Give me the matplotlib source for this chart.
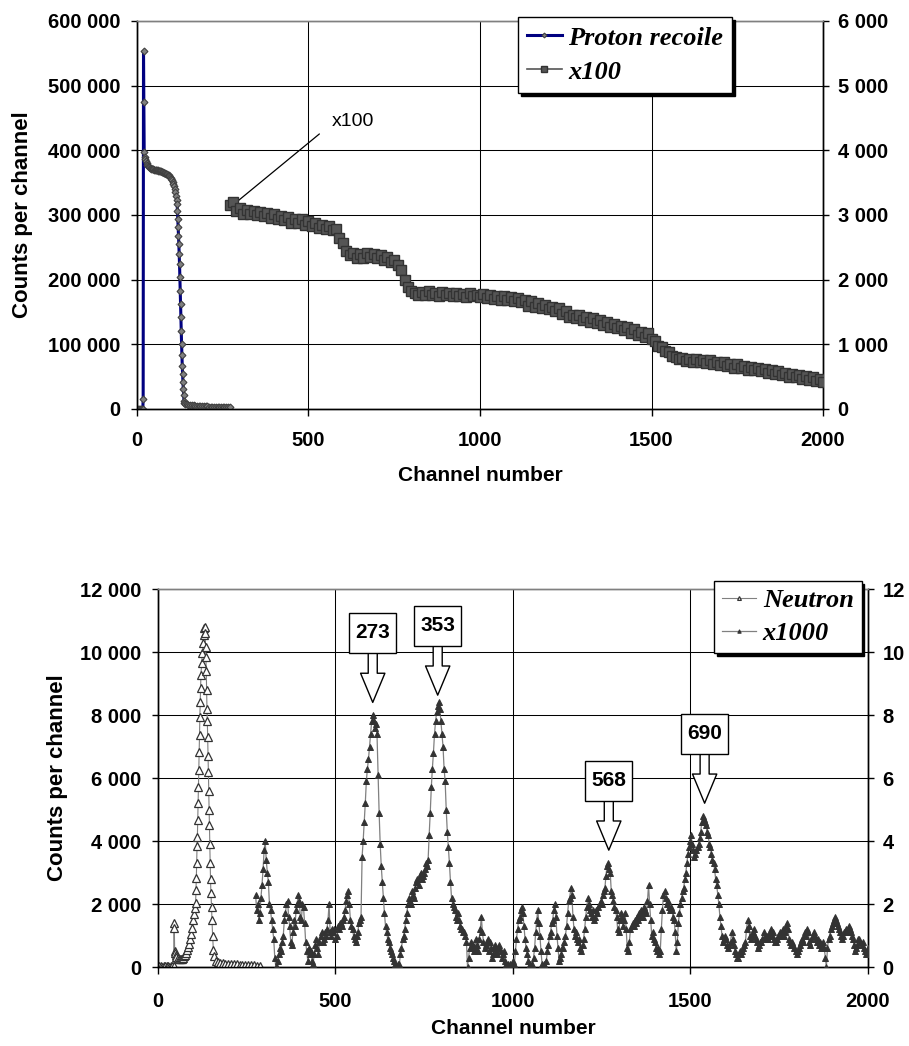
import matplotlib as mpl
mpl.use('Agg')
import matplotlib.pyplot as plt
from matplotlib.ticker import FuncFormatter, MultipleLocator

plt.rcParams['font.family'] = ['Liberation Sans', 'DejaVu Sans']
plt.rcParams['font.weight'] = 'bold'

# ---- top panel: proton recoil spectrum (left axis) ----
proton_ch = [0, 3, 6, 9, 12, 15, 17, 18, 19, 20, 21, 22] + list(range(24, 117, 2)) \
    + list(range(117, 139)) + list(range(140, 271, 5))
proton_counts = [0, 0, 0, 0, 0, 0, 0, 15000, 553000, 475000, 398000, 390000,
                 386000, 383000, 380000, 378000, 376000, 374500, 373500, 372500, 372000, 371500,
                 371000, 370500, 370500, 370000, 370000, 369500, 369500, 369000, 369000, 368500,
                 368500, 368000, 368000, 367500, 367000, 366500, 366000, 365500, 365000, 364500,
                 364000, 363500, 363000, 362000, 361000, 360000, 358500, 357000, 355500, 354000,
                 351000, 348000, 344000, 340000, 336000, 330000, 323000,
                 317000, 306000, 293000, 281000, 268000, 255000, 240000, 224000, 204000, 183000,
                 163000, 142000, 121000, 101000, 83000, 67000, 54000, 41000, 31000, 21000,
                 13000, 9500,
                 7800, 7000, 6500, 6100, 5800, 5500, 5300, 5100, 4900, 4700,
                 4500, 4300, 4100, 4000, 3800, 3700, 3500, 3400, 3300, 3200,
                 3100, 3000, 2900, 2800, 2700, 2600, 2500]

# x100 part (right axis)
x100_ch = list(range(270, 2001, 10))
x100_counts = [3150, 3200, 3060, 3100, 3020, 3080, 3010, 3060, 3000, 3050,
               2980, 3030, 2960, 3010, 2940, 2990, 2920, 2970, 2880, 2940,
               2870, 2930, 2850, 2900, 2830, 2880, 2800, 2850, 2790, 2830,
               2760, 2790, 2650, 2560, 2450, 2380, 2410, 2330, 2390, 2340,
               2410, 2350, 2400, 2330, 2380, 2300, 2350, 2270, 2300, 2230,
               2150, 2000, 1890, 1830, 1800, 1760, 1810, 1770, 1820, 1760,
               1800, 1750, 1810, 1760, 1790, 1740, 1790, 1750, 1780, 1730,
               1790, 1740, 1770, 1730, 1780, 1720, 1760, 1700, 1750, 1690,
               1740, 1680, 1730, 1670, 1720, 1650, 1690, 1600, 1670, 1580,
               1640, 1560, 1610, 1540, 1580, 1510, 1560, 1470, 1520, 1420,
               1460, 1400, 1450, 1380, 1420, 1350, 1400, 1330, 1370, 1300,
               1350, 1270, 1320, 1250, 1290, 1220, 1260, 1180, 1230, 1150,
               1190, 1120, 1170, 1080, 1050, 980, 960, 900, 880, 820,
               800, 770, 790, 740, 780, 730, 770, 720, 760, 710,
               750, 700, 730, 680, 720, 660, 700, 640, 690, 630,
               670, 610, 650, 600, 640, 580, 620, 560, 600, 540,
               580, 520, 560, 500, 540, 490, 520, 470, 510, 450,
               490, 430, 470, 420]

# ---- bottom panel: neutron spectrum (left axis) ----
neutron_ch = [0, 4, 8, 12, 16, 20, 24, 28, 32, 36, 40, 44,
              45, 46, 47, 48, 50, 52, 55, 58, 61, 64, 67, 70, 73, 76, 79, 82, 85, 88, 91, 94,
              97, 100, 102, 104,
              106, 107, 108, 109, 110, 111, 112, 113, 114, 115, 116, 117, 118, 119, 120, 121,
              123, 125, 127, 129, 131,
              132, 133, 134, 135, 136, 137, 138, 139, 140, 141, 142, 143, 144, 145, 146, 147,
              148, 149, 151, 152, 154, 156, 159, 164,
              170, 176, 182, 190, 198, 206, 214, 222, 230, 238, 246, 254, 262, 270, 278, 286]
neutron_counts = [20, 25, 20, 15, 20, 25, 20, 20, 15, 20, 25, 20,
                  1400, 1250, 520, 430, 370, 320, 280, 250, 240, 250, 270, 300, 340, 390, 450, 530,
                  620, 740, 880, 1050, 1250, 1480, 1680, 1870,
                  2030, 2450, 2820, 3300, 3830, 4140, 4670, 5200, 5730, 6260, 6840, 7370, 7950,
                  8420, 8850, 9270, 9640, 9960, 10280, 10540, 10750,
                  10800, 10600, 10150, 9850, 9400, 8800, 8200, 7800, 7300, 6700, 6200, 5600,
                  5000, 4500, 3900, 3300, 2800, 2350, 1900, 1500, 970, 550, 340, 180,
                  150, 130, 120, 110, 100, 95, 90, 85, 80, 75, 70, 65, 60, 55, 45, 20]

# x1000 part (right axis), every 3 channels from 275
x1000_ch = list(range(275, 2001, 3))
x1000_counts = [2.3, 1.8, 2.0, 1.5, 1.7, 2.2, 2.6, 3.1, 3.7, 4.0,
                3.4, 3.0, 2.7, 2.0, 1.8, 1.5, 1.2, 0.9, 0.3, 0.0,
                0.0, 0.2, 0.4, 0.6, 0.5, 0.8, 1.0, 1.5, 1.7, 2.0,
                2.1, 1.6, 1.3, 0.8, 0.7, 1.1, 1.5, 1.3, 1.8, 2.0,
                2.3, 2.1, 1.6, 1.5, 2.0, 1.9, 1.4, 0.8, 0.5, 0.2,
                0.6, 0.4, 0.5, 0.2, 0.1, 0.4, 0.7, 0.9, 0.6, 0.4,
                0.8, 1.0, 1.1, 0.8, 0.9, 1.1, 1.0, 1.2, 1.5, 2.0,
                1.1, 1.0, 1.2, 1.1, 1.2, 0.9, 1.0, 1.3, 1.2, 1.4,
                1.4, 1.3, 1.5, 1.6, 1.8, 2.1, 2.3, 2.4, 2.0, 1.5,
                1.3, 1.2, 1.0, 0.9, 0.8, 1.0, 1.1, 1.4, 1.5, 1.6,
                3.5, 4.0, 4.6, 5.2, 5.9, 6.3, 6.6, 7.0, 7.4, 7.8,
                8.0, 7.8, 7.6, 7.7, 7.4, 6.1, 4.9, 3.9, 3.2, 2.7,
                2.2, 1.7, 1.3, 1.1, 0.9, 0.8, 0.6, 0.5, 0.4, 0.3,
                0.2, 0.1, 0.0, 0.0, 0.1, 0.1, 0.4, 0.6, 0.9, 1.0,
                1.2, 1.5, 1.7, 2.0, 2.2, 2.1, 2.0, 2.4, 2.3, 2.2,
                2.5, 2.7, 2.8, 2.6, 2.9, 3.0, 2.8, 2.9, 3.0, 3.1,
                3.3, 3.2, 3.4, 4.2, 4.9, 5.7, 6.3, 6.8, 7.4, 7.8,
                8.1, 8.3, 8.4, 8.2, 7.8, 7.4, 7.0, 6.3, 5.9, 5.0,
                4.3, 3.8, 3.3, 2.7, 2.2, 2.0, 1.9, 1.8, 1.6, 1.5,
                1.7, 1.5, 1.3, 1.2, 1.2, 1.1, 1.1, 1.0, 0.8, 0.0,
                0.3, 0.6, 0.8, 0.6, 0.7, 0.5, 0.6, 0.9, 0.7, 0.5,
                0.9, 1.2, 1.6, 1.1, 0.8, 0.6, 0.7, 0.8, 0.9, 0.5,
                0.8, 0.6, 0.3, 0.4, 0.6, 0.7, 0.5, 0.4, 0.6, 0.7,
                0.5, 0.3, 0.4, 0.5, 0.2, 0.1, 0.0, 0.1, 0.0, 0.1,
                0.0, 0.1, 0.2, 0.1, 0.5, 0.9, 1.2, 1.5, 1.6, 1.8,
                1.9, 1.7, 1.3, 0.9, 0.6, 0.4, 0.2, 0.0, 0.1, 0.0,
                0.1, 0.3, 0.6, 1.1, 1.5, 1.8, 1.4, 1.0, 0.5, 0.1,
                0.0, 0.1, 0.0, 0.2, 0.5, 0.7, 1.0, 1.1, 1.4, 1.5,
                1.8, 2.0, 1.6, 1.0, 0.6, 0.2, 0.3, 0.4, 0.6, 0.6,
                0.8, 1.0, 1.3, 1.7, 2.1, 2.2, 2.5, 2.3, 1.6, 1.2,
                1.0, 1.1, 0.9, 0.8, 0.9, 0.6, 0.5, 0.7, 0.9, 1.2,
                1.6, 1.9, 2.2, 2.0, 1.8, 1.7, 1.6, 1.8, 1.5, 1.6,
                1.8, 1.7, 1.9, 2.0, 2.1, 2.0, 2.3, 2.4, 2.5, 2.9,
                3.2, 3.3, 3.1, 3.0, 2.4, 2.3, 2.1, 1.9, 1.8, 1.6,
                1.2, 1.1, 1.5, 1.7, 1.6, 1.3, 1.5, 1.7, 1.2, 0.6,
                0.5, 0.8, 1.2, 1.3, 1.4, 1.3, 1.5, 1.4, 1.6, 1.5,
                1.7, 1.6, 1.8, 1.7, 1.6, 1.9, 1.8, 1.7, 2.1, 2.6,
                2.0, 1.5, 1.0, 1.1, 0.9, 0.8, 0.6, 0.5, 0.6, 0.4,
                0.5, 1.2, 1.8, 2.3, 2.4, 2.2, 2.0, 2.1, 1.9, 1.8,
                1.9, 1.8, 1.6, 1.5, 1.1, 0.5, 0.8, 1.4, 1.7, 2.0,
                2.2, 2.4, 2.5, 2.8, 3.0, 3.3, 3.6, 3.8, 4.0, 4.2,
                3.9, 3.7, 3.5, 3.6, 3.7, 3.8, 3.9, 4.1, 4.3, 4.6,
                4.8, 4.7, 4.6, 4.5, 4.3, 4.2, 3.9, 3.8, 3.6, 3.4,
                3.3, 3.1, 2.8, 2.6, 2.3, 2.0, 1.6, 1.3, 1.0, 0.8,
                0.9, 1.0, 0.9, 0.7, 0.6, 0.7, 0.8, 1.1, 0.9, 0.7,
                0.5, 0.4, 0.3, 0.3, 0.4, 0.5, 0.4, 0.5, 0.6, 0.7,
                0.8, 1.2, 1.5, 1.3, 1.0, 0.9, 1.0, 1.1, 1.2, 1.0,
                0.9, 0.8, 0.6, 0.7, 0.8, 0.8, 0.9, 1.1, 1.0, 0.9,
                1.0, 0.9, 1.0, 1.1, 1.2, 1.0, 1.1, 0.9, 0.8, 0.8,
                0.9, 1.0, 1.1, 1.0, 1.1, 1.2, 1.0, 1.1, 1.3, 1.4,
                1.2, 0.9, 0.8, 0.7, 0.8, 0.7, 0.6, 0.5, 0.4, 0.5,
                0.6, 0.7, 0.8, 0.9, 0.8, 1.0, 1.1, 1.0, 1.2, 1.1,
                0.8, 0.7, 0.9, 1.0, 1.1, 1.0, 0.9, 0.8, 0.9, 0.7,
                0.8, 0.6, 0.7, 0.8, 0.6, 0.3, 0.0, 0.6, 0.9, 1.0,
                1.2, 1.3, 1.4, 1.5, 1.6, 1.5, 1.4, 1.3, 1.2, 1.1,
                1.0, 0.9, 1.0, 1.1, 1.2, 1.1, 1.2, 1.3, 1.2, 1.1,
                1.0, 0.9, 0.7, 0.5, 0.6, 0.7, 0.9, 0.9, 0.8, 0.7,
                0.8, 0.6, 0.5, 0.4, 0.5, 0.6]

# labelled peaks (channel, arrow tip height, label)
peak_ch = [605, 788, 1270, 1540]
peak_tip = [8400, 8630, 3710, 5200]
peak_labels = ['273', '353', '568', '690']


def spaced(v, pos):
    return '{:,}'.format(int(round(v))).replace(',', ' ')


def style(ax, axr, ymax, ystep, rmax, rstep, xpad):
    ax.set_xlim(0, 2000)
    ax.set_ylim(0, ymax)
    axr.set_ylim(0, rmax)
    ax.xaxis.set_major_locator(MultipleLocator(500))
    ax.yaxis.set_major_locator(MultipleLocator(ystep))
    axr.yaxis.set_major_locator(MultipleLocator(rstep))
    ax.yaxis.set_major_formatter(FuncFormatter(spaced))
    axr.yaxis.set_major_formatter(FuncFormatter(spaced))
    ax.grid(True, color='black', lw=0.75)
    for a in (ax, axr):
        a.spines['top'].set_color('#808080')
        a.spines['left'].set_color('black')
        a.spines['right'].set_color('black')
        a.spines['bottom'].set_color('black')
        for s in a.spines.values():
            s.set_linewidth(1)
    ax.tick_params(axis='x', direction='out', length=5, width=1, labelsize=14.5, pad=xpad)
    ax.tick_params(axis='y', direction='out', length=4, width=1, labelsize=14.5, pad=8)
    axr.tick_params(axis='y', direction='out', length=4.5, width=1, labelsize=14.5, pad=6)


fig = plt.figure(figsize=(9.09, 10.46), dpi=100)

# top chart
ax1 = fig.add_axes([0.1507, 0.609, 0.7547, 0.371])
ax1r = ax1.twinx()
style(ax1, ax1r, 600000, 100000, 6000, 1000, 11)

h1, = ax1.plot(proton_ch, proton_counts, color='#000080', lw=2.2, marker='D', ms=3.5,
               mfc='#808080', mec='#404040', mew=0.8, label='Proton recoile', zorder=3)
h2, = ax1r.plot(x100_ch, x100_counts, color='#555555', lw=1.2, marker='s', ms=6.5,
                mfc='#555555', mec='#333333', mew=1.0, label='x100', zorder=3)

ax1.annotate('x100', xy=(262, 307600), xytext=(568, 445000), textcoords='data',
             fontsize=14, fontweight='normal', ha='left', va='center',
             arrowprops=dict(arrowstyle='-', color='black', lw=0.9, relpos=(0, 0.35),
                             shrinkA=9, shrinkB=0))

ax1.set_xlabel('Channel number', fontsize=15, fontweight='bold')
ax1.xaxis.set_label_coords(0.5, -0.147)
ax1.set_ylabel('Counts per channel', fontsize=16, fontweight='bold')
ax1.yaxis.set_label_coords(-0.152, 0.5)

legend_font = dict(family=['Liberation Serif', 'DejaVu Serif'], weight='bold', style='italic', size=19)
leg1 = ax1r.legend([h1, h2], ['Proton recoile', 'x100'], loc='upper left',
                   bbox_to_anchor=(518 / 909, 1 - 17 / 1046), bbox_transform=fig.transFigure,
                   borderaxespad=0, prop=legend_font, fancybox=False, framealpha=1,
                   edgecolor='black', shadow={'color': 'black', 'alpha': 1},
                   handlelength=1.3, handletextpad=0.25, borderpad=0.35, labelspacing=0.4,
                   markerscale=0.7)
leg1.get_frame().set_linewidth(1)

# bottom chart
ax2 = fig.add_axes([0.1738, 0.0755, 0.781, 0.3614])
ax2r = ax2.twinx()
style(ax2, ax2r, 12000, 2000, 12, 2, 13)

h3, = ax2.plot(neutron_ch, neutron_counts, color='#808080', lw=0.8, marker='^', ms=5.5,
               mfc='white', mec='#333333', mew=0.9, label='Neutron', zorder=3)
h4, = ax2r.plot(x1000_ch, x1000_counts, color='#808080', lw=0.9, marker='^', ms=5,
                mfc='#333333', mec='#333333', mew=0.7, label='x1000', zorder=3)

for c, t, lab in zip(peak_ch, peak_tip, peak_labels):
    ax2r.annotate(lab, xy=(c, t / 1000), xytext=(0, 50), textcoords='offset points',
                  ha='center', va='center', fontsize=15, fontweight='bold', zorder=6,
                  bbox=dict(boxstyle='square,pad=0.3', fc='white', ec='black', lw=1,
                            mutation_aspect=1.65),
                  arrowprops=dict(arrowstyle='simple,head_length=2.1,head_width=1.75,tail_width=0.65',
                                  fc='white', ec='black', lw=1, shrinkA=0, shrinkB=0,
                                  mutation_scale=10))

ax2.set_xlabel('Channel number', fontsize=15, fontweight='bold')
ax2.xaxis.set_label_coords(0.5, -0.138)
ax2.set_ylabel('Counts per channel', fontsize=16, fontweight='bold')
ax2.yaxis.set_label_coords(-0.127, 0.5)

leg2 = ax2r.legend([h3, h4], ['Neutron', 'x1000'], loc='upper left',
                   bbox_to_anchor=(714 / 909, 1 - 581 / 1046), bbox_transform=fig.transFigure,
                   borderaxespad=0, prop=legend_font, fancybox=False, framealpha=1,
                   edgecolor='black', shadow={'color': 'black', 'alpha': 1},
                   handlelength=1.3, handletextpad=0.25, borderpad=0.3, labelspacing=0.35,
                   markerscale=0.5)
leg2.get_frame().set_linewidth(1)
leg2.set_zorder(10)

fig.savefig('out.png', dpi=100)
